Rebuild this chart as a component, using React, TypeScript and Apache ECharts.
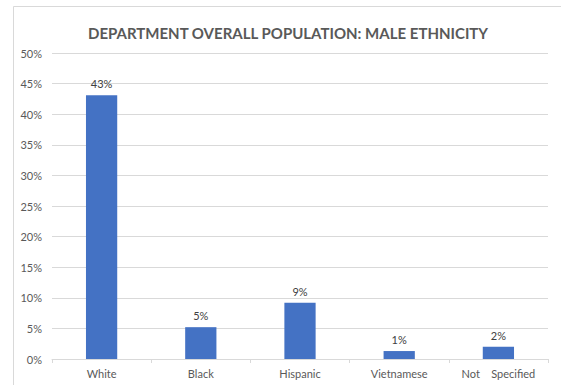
import React, { useEffect, useRef } from "react";
import * as echarts from "echarts";

const titleText = "DEPARTMENT OVERALL POPULATION: MALE ETHNICITY";
const categories = ["White", "Black", "Hispanic", "Vietnamese", "Not    Specified"];
const values = [43.1, 5.2, 9.2, 1.3, 2.0];
const yMin = 0;
const yMax = 50;
const yStep = 5;

export default function App() {
  const ref = useRef<HTMLDivElement>(null);
  useEffect(() => {
    if (!ref.current) return;
    const chart = echarts.init(ref.current, undefined, { renderer: "svg" });
    const font = "Lato";
    chart.setOption({
      animation: false,
      backgroundColor: "#ffffff",
      title: {
        text: titleText,
        left: 283,
        textAlign: "center",
        top: 20,
        textStyle: { fontFamily: font, fontWeight: "bold", fontSize: 15, color: "#595959" },
      },
      graphic: [
        { type: "line", shape: { x1: 13.5, y1: 6.5, x2: 561, y2: 6.5 }, style: { stroke: "#d9d9d9", lineWidth: 1 } },
        { type: "line", shape: { x1: 13.5, y1: 6.5, x2: 13.5, y2: 385 }, style: { stroke: "#d9d9d9", lineWidth: 1 } },
      ],
      grid: { left: 52, right: 13, top: 53, bottom: 26, containLabel: false },
      xAxis: {
        type: "category",
        data: categories,
        axisLine: { lineStyle: { color: "#d9d9d9" } },
        axisTick: { show: true, length: 4, lineStyle: { color: "#d9d9d9" } },
        axisLabel: { interval: 0, color: "#595959", fontFamily: font, fontSize: 11, margin: 9 },
      },
      yAxis: {
        type: "value",
        min: yMin,
        max: yMax,
        interval: yStep,
        axisLine: { show: false },
        axisTick: { show: false },
        splitLine: { lineStyle: { color: "#d9d9d9" } },
        axisLabel: {
          color: "#595959",
          fontFamily: font,
          fontSize: 11,
          margin: 10,
          formatter: (v: number) => `${v}%`,
        },
      },
      series: [
        {
          type: "bar",
          data: values,
          barWidth: "31.5%",
          itemStyle: { color: "#4472c4" },
          label: {
            show: true,
            position: "top",
            distance: 6,
            color: "#404040",
            fontFamily: font,
            fontSize: 11,
            formatter: (p: any) => `${Math.round(p.value)}%`,
          },
        },
      ],
    });
    return () => chart.dispose();
  }, []);
  return (
    <div
      ref={ref}
      style={{ position: "fixed", left: 0, top: 0, width: 561, height: 385 }}
    />
  );
}
